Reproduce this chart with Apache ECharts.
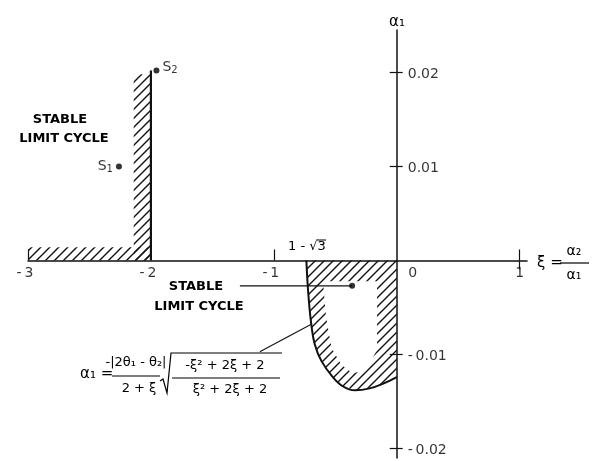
<!DOCTYPE html>
<html>
<head>
<meta charset="utf-8">
<script src="https://cdn.jsdelivr.net/npm/echarts@6/dist/echarts.min.js"></script>
<style>
html, body { margin: 0; padding: 0; background: #fff; }
#main { width: 598px; height: 461px; }
</style>
</head>
<body>
<div id="main"></div>
<script>
// tick values / labels
var xTickLabels = [-3, -2, -1, 0, 1];
var xUpTicks = [-3, -1, 1];
var xDownTicks = [1];
var yTickLabels = [-0.02, -0.01, 0.01, 0.02];

// boundary curve alpha1(xi)
var curveXi    = [-0.735, -0.725, -0.712, -0.695, -0.667, -0.612, -0.52, -0.436, -0.34, -0.22, -0.11, 0];
var curveAlpha = [0, -0.0025, -0.0047, -0.0068, -0.0089, -0.0107, -0.0124, -0.0134, -0.0138, -0.0136, -0.0131, -0.0124];

// boundary xi = -2 up to S2
var wallXi = [-2, -2];
var wallAlpha = [0, 0.0202];

// hatched bands
var hatchBottom = [[-3, 0], [-2, 0], [-2, 0.0014], [-3, 0.0014]];
var hatchWall = [[-2.14, 0], [-2, 0], [-2, 0.0198], [-2.14, 0.0198]];
var hatchHole = [[-0.6, -0.0022], [-0.16, -0.0022], [-0.16, -0.0095], [-0.25, -0.0117], [-0.36, -0.012],
                 [-0.45, -0.0111], [-0.53, -0.0093], [-0.575, -0.006]];

// points S1, S2 and the stable limit cycle point
var pointNames = ['S1', 'S2', ''];
var pointXi = [-2.26, -1.955, -0.363];
var pointAlpha = [0.0100, 0.0202, -0.0027];

// leader lines
var arrowXi = [-1.276, -0.363];
var arrowAlpha = [-0.0027, -0.0027];
var leaderXi = [-1.114, -0.699];
var leaderAlpha = [-0.0097, -0.0068];

var ink = '#000';
var FONT = '"DejaVu Sans", sans-serif';

function pairs(xs, ys) {
    var res = [];
    for (var i = 0; i < xs.length; i++) res.push([xs[i], ys[i]]);
    return res;
}

// hatch pattern
var hatch = document.createElement('canvas');
hatch.width = 9; hatch.height = 9;
var hc = hatch.getContext('2d');
hc.strokeStyle = '#111'; hc.lineWidth = 1.4;
hc.beginPath();
hc.moveTo(-1, 10); hc.lineTo(10, -1);
hc.moveTo(-1, 1); hc.lineTo(1, -1);
hc.moveTo(8, 10); hc.lineTo(10, 8);
hc.stroke();
var hatchFill = { image: hatch, repeat: 'repeat' };

var regionOuter = pairs(curveXi, curveAlpha).concat([[0, 0]]);

function polygonSeries(points, fill) {
    return {
        type: 'custom',
        coordinateSystem: 'cartesian2d',
        data: [[0, 0]],
        silent: true,
        z: 1,
        renderItem: function (params, api) {
            return {
                type: 'polygon',
                shape: { points: points.map(function (p) { return api.coord(p); }) },
                style: { fill: fill, stroke: null }
            };
        }
    };
}

function txt(s, x, y, size, align, weight) {
    return {
        type: 'text', x: x, y: y,
        style: {
            text: s, fill: ink, font: (weight || 'normal') + ' ' + (size || 14) + 'px ' + FONT,
            align: align || 'center', verticalAlign: 'middle'
        }
    };
}
function seg(x1, y1, x2, y2, w) {
    return { type: 'line', shape: { x1: x1, y1: y1, x2: x2, y2: y2 }, style: { stroke: ink, lineWidth: w || 1.2 } };
}
function minus(s) { return s.charAt(0) === '-' ? '-\u2009' + s.slice(1) : s; }

var chart = echarts.init(document.getElementById('main'));

var option = {
    backgroundColor: '#fff',
    animation: false,
    grid: { left: 28, right: 71, top: 30, bottom: 3, containLabel: false, outerBoundsMode: 'none' },
    xAxis: [{
        type: 'value', min: -3, max: 1.06, position: 'bottom', z: 10,
        axisLine: { onZero: true, lineStyle: { color: '#111', width: 1.5 } },
        axisTick: { show: true, inside: true, length: 11, customValues: xUpTicks, lineStyle: { color: '#111', width: 1.2 } },
        axisLabel: { show: false },
        splitLine: { show: false }
    }, {
        type: 'value', min: -3, max: 1.06, position: 'top', z: 10,
        axisLine: { show: false, onZero: true, onZeroAxisIndex: 0 },
        axisTick: { show: true, inside: true, length: 9, customValues: xDownTicks, lineStyle: { color: '#111', width: 1.2 } },
        axisLabel: { show: false },
        splitLine: { show: false }
    }],
    yAxis: [{
        type: 'value', min: -0.021, max: 0.0245, position: 'left', z: 10,
        axisLine: { onZero: true, lineStyle: { color: '#111', width: 1.5 } },
        axisTick: { show: true, length: 7, customValues: yTickLabels, lineStyle: { color: '#111', width: 1.2 } },
        axisLabel: { show: false },
        splitLine: { show: false }
    }, {
        type: 'value', min: -0.021, max: 0.0245, position: 'right', z: 10,
        axisLine: { show: false, onZero: true, onZeroAxisIndex: 0 },
        axisTick: { show: true, length: 6, customValues: yTickLabels, lineStyle: { color: '#111', width: 1.2 } },
        axisLabel: { show: false },
        splitLine: { show: false }
    }],
    series: [
        polygonSeries(hatchBottom, hatchFill),
        polygonSeries(hatchWall, hatchFill),
        polygonSeries(regionOuter, hatchFill),
        polygonSeries(hatchHole, '#fff'),
        {
            type: 'line', data: pairs(curveXi, curveAlpha), smooth: 0.4, symbol: 'none',
            lineStyle: { color: '#111', width: 2 }, z: 5
        },
        {
            type: 'line', data: pairs(wallXi, wallAlpha), symbol: 'none',
            lineStyle: { color: '#111', width: 2.2 }, z: 5
        },
        {
            type: 'line', data: pairs(arrowXi, arrowAlpha), symbol: 'none',
            lineStyle: { color: '#111', width: 1.1 }, z: 5
        },
        {
            type: 'line', data: pairs(leaderXi, leaderAlpha), symbol: 'none',
            lineStyle: { color: '#111', width: 1.1 }, z: 5
        },
        // x tick labels, placed on the axis line at alpha1 = 0
        {
            type: 'scatter', symbolSize: 0, silent: true, z: 6,
            data: xTickLabels.map(function (v) {
                return {
                    value: [v, 0],
                    label: {
                        show: true, position: 'bottom', distance: 6,
                        offset: v === 0 ? [16, 0] : (v < 0 ? [-3, 0] : [0, 0]),
                        formatter: minus(String(v)),
                        color: ink, fontSize: 14, fontFamily: FONT
                    }
                };
            })
        },
        // y tick labels, right of the axis line at xi = 0
        {
            type: 'scatter', symbolSize: 0, silent: true, z: 6,
            data: yTickLabels.map(function (v) {
                return {
                    value: [0, v],
                    label: {
                        show: true, position: 'right', distance: 11, offset: [0, 2],
                        formatter: minus(v.toFixed(2)),
                        color: ink, fontSize: 14, fontFamily: FONT
                    }
                };
            })
        },
        {
            type: 'scatter', symbolSize: 6, z: 6,
            itemStyle: { color: '#000' },
            data: pointXi.map(function (x, i) {
                return {
                    name: pointNames[i], value: [x, pointAlpha[i]],
                    label: {
                        show: pointNames[i] !== '',
                        position: i === 0 ? 'left' : 'right',
                        distance: 3,
                        offset: i === 1 ? [0, -3] : [0, 0],
                        formatter: '{s|S}{sub|' + pointNames[i].slice(1) + '}',
                        rich: {
                            s: { fontSize: 14, fontFamily: FONT, color: ink },
                            sub: { fontSize: 10, fontFamily: FONT, color: ink, padding: [6, 0, 0, 0] }
                        }
                    }
                };
            })
        }
    ],
    graphic: [
        // axis names
        txt('\u03b1\u2081', 397, 22, 15),
        txt('\u03be =', 537, 263, 15, 'left'),
        txt('\u03b1\u2082', 574, 251, 14),
        seg(560, 263, 589, 263, 1.2),
        txt('\u03b1\u2081', 574, 275, 14),
        // annotations
        txt('STABLE', 60, 120, 13, 'center', 'bold'),
        txt('LIMIT CYCLE', 64, 139, 13, 'center', 'bold'),
        txt('STABLE', 196, 287, 13, 'center', 'bold'),
        txt('LIMIT CYCLE', 199, 307, 13, 'center', 'bold'),
        txt('1 - \u221a3', 307, 247, 13),
        seg(317, 240, 326, 240, 1),
        // formula
        txt('\u03b1\u2081 =', 80, 374, 15, 'left'),
        txt('-|2\u03b8\u2081 - \u03b8\u2082|', 136, 363, 13),
        seg(112, 376, 160, 376, 1.2),
        txt('2 + \u03be', 139, 389, 13),
        { type: 'polyline', shape: { points: [[160, 381], [163, 379], [167, 393], [171, 353], [282, 353]] },
          style: { stroke: ink, lineWidth: 1.2, fill: null } },
        txt('-\u03be\u00b2 + 2\u03be + 2', 225, 366, 13),
        seg(172, 378, 280, 378, 1.2),
        txt('\u03be\u00b2 + 2\u03be + 2', 230, 390, 13)
    ]
};

chart.setOption(option);
</script>
</body>
</html>
